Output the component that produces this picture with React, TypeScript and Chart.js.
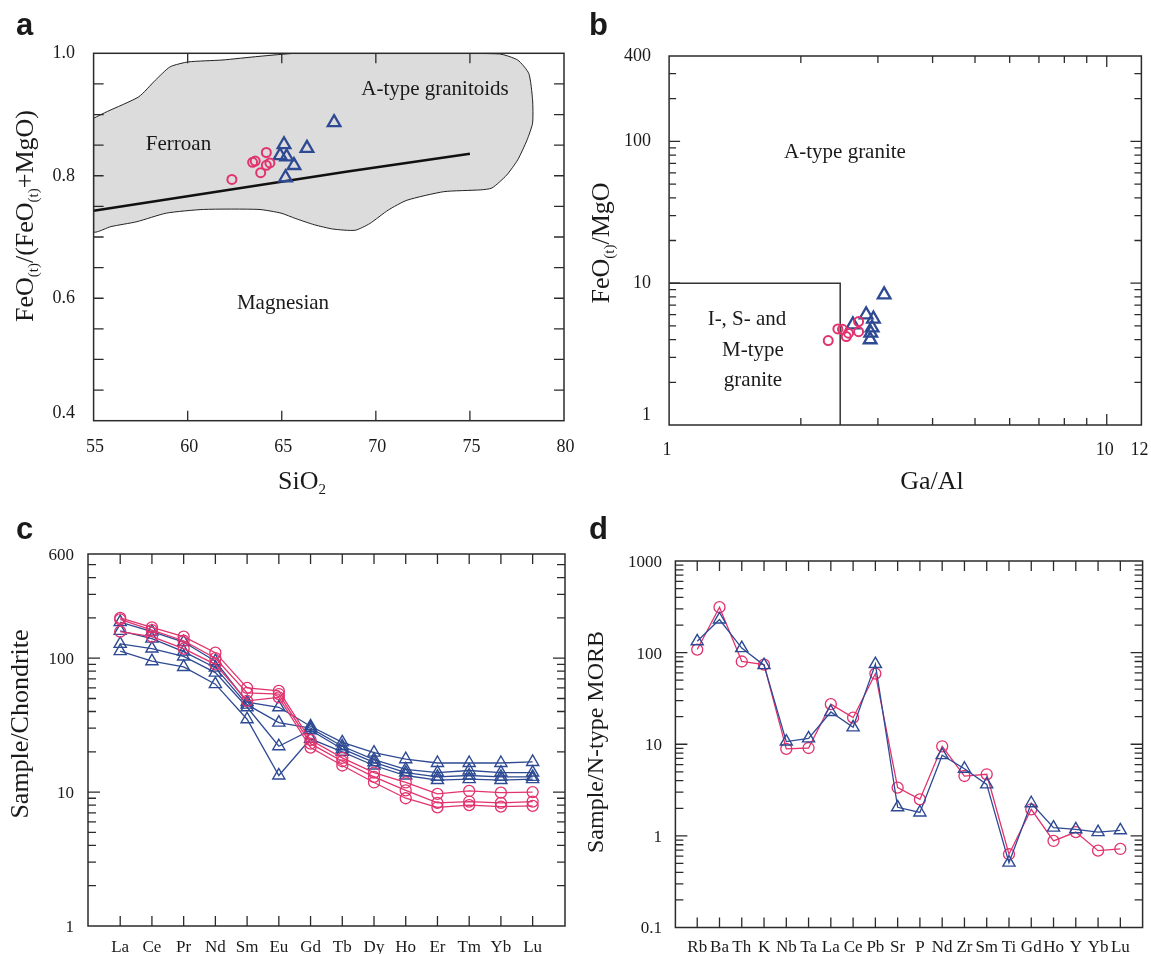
import React, { useEffect, useRef } from 'react';
import { Chart, registerables } from 'chart.js';

Chart.register(...registerables);

const W = 1151;
const H = 954;
const PINK = '#e1336e';
const BLUE = '#2e4a93';
const FRAME = '#2b2b2b';
const INK = '#1a1a1a';
const SERIF = '"Liberation Serif", "Times New Roman", serif';
const SANS = '"Liberation Sans", Arial, sans-serif';

// ---------- Panel a: FeOt/(FeOt+MgO) vs SiO2 ----------
const aPinkSiO2 = [62.35, 63.45, 63.59, 64.18, 63.88, 64.18, 64.37];
const aPinkRatio = [0.794, 0.822, 0.824, 0.838, 0.805, 0.817, 0.821];
const aBlueSiO2 = [67.78, 65.12, 66.34, 64.91, 65.26, 65.65, 65.2];
const aBlueRatio = [0.887, 0.851, 0.845, 0.833, 0.831, 0.817, 0.797];
const aFieldSiO2 = [55, 55.73, 57.4, 58.28, 59.07, 60.05, 61.82, 63.79, 65.75, 69.68, 73.61, 76.56, 77.54, 78.13, 78.33, 78.33, 78.03, 77.54, 76.95, 76.17, 75.58, 73.61, 71.65, 70.66, 69.68, 68.9, 67.72, 66.73, 65.75, 64.96, 63.79, 60.84, 58.87, 57.3, 55.92, 55, 55];
const aFieldRatio = [0.894, 0.905, 0.929, 0.956, 0.978, 0.986, 0.989, 0.995, 1.0, 1.001, 1.0, 0.999, 0.989, 0.967, 0.924, 0.886, 0.858, 0.826, 0.801, 0.78, 0.777, 0.774, 0.76, 0.744, 0.722, 0.711, 0.713, 0.72, 0.73, 0.739, 0.745, 0.745, 0.739, 0.725, 0.717, 0.709, 0.894];
const aDividerSiO2 = [55, 68.5, 75];
const aDividerRatio = [0.743, 0.807, 0.836];
const aXTickLabels = [55, 60, 65, 70, 75, 80];
const aYTickLabels = [0.4, 0.6, 0.8, 1.0];

// ---------- Panel b: FeOt/MgO vs Ga/Al ----------
const bPinkGaAl = [2.31, 2.43, 2.49, 2.54, 2.57, 2.71, 2.71];
const bPinkRatio = [3.94, 4.76, 4.73, 4.2, 4.44, 4.55, 5.36];
const bBlueGaAl = [3.1, 2.82, 2.63, 2.93, 2.91, 2.89, 2.88];
const bBlueRatio = [8.3, 6.0, 5.1, 5.6, 4.85, 4.45, 4.0];
const bBoxGaAl = [1, 2.46, 2.46];
const bBoxRatio = [10, 10, 1];
const bXTickLabels = [1, 10, 12];
const bYTickLabels = [1, 10, 100, 400];

// ---------- Panel c: chondrite-normalised REE ----------
const reeLabels = ['La', 'Ce', 'Pr', 'Nd', 'Sm', 'Eu', 'Gd', 'Tb', 'Dy', 'Ho', 'Er', 'Tm', 'Yb', 'Lu'];
const cBlue1 = [186, 158, 132, 95, 47, 43, 31, 23.5, 19.7, 17.6, 16.5, 16.5, 16.5, 16.8];
const cBlue2 = [160, 140, 112, 85, 45, 33, 30, 22, 17.5, 14.8, 14, 14.5, 14, 14];
const cBlue3 = [128, 118, 103, 78, 43, 22, 29, 21, 16.7, 14, 13, 13.3, 13, 13];
const cBlue4 = [113, 95, 86, 64, 35, 13.3, 25, 20, 15.8, 13.3, 12.3, 12.5, 12.3, 12.5];
const cPink1 = [200, 170, 145, 110, 60, 57, 24.5, 18, 14, 11.8, 9.7, 10.2, 9.9, 10];
const cPink2 = [195, 162, 135, 100, 55, 54, 23, 17, 13, 10.3, 8.3, 8.5, 8.3, 8.5];
const cPink3 = [158, 145, 118, 90, 48, 51, 21.5, 15.8, 11.8, 9.0, 7.7, 8.0, 7.8, 7.9];
const cYTickLabels = [1, 10, 100, 600];

// ---------- Panel d: N-MORB-normalised spider ----------
const spiderLabels = ['Rb', 'Ba', 'Th', 'K', 'Nb', 'Ta', 'La', 'Ce', 'Pb', 'Sr', 'P', 'Nd', 'Zr', 'Sm', 'Ti', 'Gd', 'Ho', 'Y', 'Yb', 'Lu'];
const dPink = [108, 313, 80, 74, 8.9, 9.1, 27.4, 19.5, 59, 3.36, 2.5, 9.5, 4.5, 4.7, 0.63, 1.95, 0.88, 1.1, 0.69, 0.72];
const dBlue = [133, 230, 112, 73, 10.7, 11.6, 22.5, 15.3, 75, 2.05, 1.8, 7.6, 5.4, 3.65, 0.51, 2.27, 1.23, 1.18, 1.1, 1.15];
const dYTickLabels = [0.1, 1, 10, 100, 1000];

// ---------- helpers ----------
type Area = { left: number; top: number; right: number; bottom: number };
type Part = [string, boolean];

const zip = (xs: number[], ys: number[]) => xs.map((x, i) => ({ x, y: ys[i] }));
const idx = (ys: number[]) => ys.map((y, i) => ({ x: i, y }));

function logTicks(min: number, max: number) {
  const out: { v: number; major: boolean }[] = [];
  for (let e = Math.floor(Math.log10(min)); e <= Math.ceil(Math.log10(max)); e++) {
    for (let k = 1; k < 10; k++) {
      const v = k * Math.pow(10, e);
      if (v > min * 1.0001 && v < max * 0.9999) out.push({ v, major: k === 1 });
    }
  }
  return out;
}

function frame(ctx: CanvasRenderingContext2D, a: Area) {
  ctx.save();
  ctx.strokeStyle = FRAME;
  ctx.lineWidth = 1.5;
  ctx.strokeRect(a.left, a.top, a.right - a.left, a.bottom - a.top);
  ctx.restore();
}

function xTick(ctx: CanvasRenderingContext2D, a: Area, px: number, len: number) {
  ctx.beginPath();
  ctx.moveTo(px, a.bottom);
  ctx.lineTo(px, a.bottom - len);
  ctx.moveTo(px, a.top);
  ctx.lineTo(px, a.top + len);
  ctx.stroke();
}

function yTick(ctx: CanvasRenderingContext2D, a: Area, py: number, len: number) {
  ctx.beginPath();
  ctx.moveTo(a.left, py);
  ctx.lineTo(a.left + len, py);
  ctx.moveTo(a.right, py);
  ctx.lineTo(a.right - len, py);
  ctx.stroke();
}

function text(
  ctx: CanvasRenderingContext2D,
  s: string,
  x: number,
  y: number,
  font: string,
  align: CanvasTextAlign = 'center',
  baseline: CanvasTextBaseline = 'middle'
) {
  ctx.save();
  ctx.font = font;
  ctx.fillStyle = INK;
  ctx.textAlign = align;
  ctx.textBaseline = baseline;
  ctx.fillText(s, x, y);
  ctx.restore();
}

function rich(ctx: CanvasRenderingContext2D, parts: Part[], x: number, y: number, size: number, rotate: boolean) {
  ctx.save();
  ctx.translate(x, y);
  if (rotate) ctx.rotate(-Math.PI / 2);
  const main = `${size}px ${SERIF}`;
  const sub = `${Math.round(size * 0.56)}px ${SERIF}`;
  let total = 0;
  for (const [t, s] of parts) {
    ctx.font = s ? sub : main;
    total += ctx.measureText(t).width;
  }
  let cx = -total / 2;
  ctx.fillStyle = INK;
  ctx.textAlign = 'left';
  ctx.textBaseline = 'alphabetic';
  for (const [t, s] of parts) {
    ctx.font = s ? sub : main;
    ctx.fillText(t, cx, s ? size * 0.2 : 0);
    cx += ctx.measureText(t).width;
  }
  ctx.restore();
}

function letter(ctx: CanvasRenderingContext2D, s: string, x: number, y: number) {
  text(ctx, s, x, y, `bold 31px ${SANS}`, 'left', 'alphabetic');
}

const circleSet = (data: { x: number; y: number }[], r: number, bw: number, line: boolean, order = 0) => ({
  data,
  showLine: line,
  borderColor: PINK,
  borderWidth: 1.3,
  pointStyle: 'circle',
  pointRadius: r,
  pointBorderWidth: bw,
  pointBorderColor: PINK,
  pointBackgroundColor: 'rgba(0,0,0,0)',
  order,
});

const triSet = (data: { x: number; y: number }[], r: number, bw: number, line: boolean, order = 0) => ({
  data,
  showLine: line,
  borderColor: BLUE,
  borderWidth: 1.3,
  pointStyle: 'triangle',
  pointRadius: r,
  pointBorderWidth: bw,
  pointBorderColor: BLUE,
  pointBackgroundColor: 'rgba(0,0,0,0)',
  order,
});

function baseOptions(area: Area, x: any, y: any) {
  return {
    animation: false,
    responsive: false,
    devicePixelRatio: 1,
    events: [],
    layout: { padding: { left: area.left, top: area.top, right: W - area.right, bottom: H - area.bottom } },
    plugins: { legend: { display: false }, tooltip: { enabled: false } },
    scales: { x: { ...x, display: false }, y: { ...y, display: false } },
  };
}

// ---------- chart configs ----------
const areaA: Area = { left: 93.6, top: 53.3, right: 564, bottom: 420.7 };
const areaB: Area = { left: 669.1, top: 56, right: 1142.7, bottom: 425 };
const areaC: Area = { left: 88, top: 554, right: 565, bottom: 926 };
const areaD: Area = { left: 675.4, top: 561, right: 1146.3, bottom: 927.5 };

function configA(): any {
  return {
    type: 'scatter',
    data: {
      datasets: [
        circleSet(zip(aPinkSiO2, aPinkRatio), 4.5, 2, false, 0),
        triSet(zip(aBlueSiO2, aBlueRatio), 7.3, 2.3, false, 0),
        {
          data: zip(aDividerSiO2, aDividerRatio),
          showLine: true,
          borderColor: '#111',
          borderWidth: 2.6,
          pointRadius: 0,
          order: 1,
        },
        {
          data: zip(aFieldSiO2, aFieldRatio),
          showLine: true,
          borderColor: '#222',
          borderWidth: 1,
          backgroundColor: '#dcdcdc',
          fill: 'shape',
          tension: 0.2,
          pointRadius: 0,
          order: 2,
        },
      ],
    },
    options: baseOptions(areaA, { type: 'linear', min: 55, max: 80 }, { type: 'linear', min: 0.4, max: 1.0 }),
    plugins: [
      {
        id: 'decorA',
        afterDatasetsDraw(chart: any) {
          const ctx = chart.ctx as CanvasRenderingContext2D;
          const a = chart.chartArea as Area;
          const sx = chart.scales.x;
          const sy = chart.scales.y;
          frame(ctx, a);
          ctx.save();
          ctx.strokeStyle = FRAME;
          ctx.lineWidth = 1.3;
          aXTickLabels.slice(1, -1).forEach((v) => xTick(ctx, a, sx.getPixelForValue(v), 10));
          for (let i = 1; i < 12; i++) yTick(ctx, a, sy.getPixelForValue(0.4 + 0.05 * i), 10);
          ctx.restore();
          aYTickLabels.forEach((v) =>
            text(ctx, v.toFixed(1), 75, Math.min(sy.getPixelForValue(v), a.bottom - 7), `18px ${SERIF}`, 'right')
          );
          aXTickLabels.forEach((v) => text(ctx, String(v), sx.getPixelForValue(v) + 1.5, 447, `18px ${SERIF}`));
          rich(ctx, [['FeO', false], ['(t)', true], ['/(FeO', false], ['(t)', true], ['+MgO)', false]], 33, 216, 26, true);
          rich(ctx, [['SiO', false], ['2', true]], 302, 489, 26, false);
          text(ctx, 'A-type granitoids', 435, 89, `21px ${SERIF}`);
          text(ctx, 'Ferroan', 178.5, 144, `21px ${SERIF}`);
          text(ctx, 'Magnesian', 283, 303, `21px ${SERIF}`);
          letter(ctx, 'a', 16, 35);
        },
      },
    ],
  };
}

function configB(): any {
  return {
    type: 'scatter',
    data: {
      datasets: [
        circleSet(zip(bPinkGaAl, bPinkRatio), 4.5, 2, false, 0),
        triSet(zip(bBlueGaAl, bBlueRatio), 7.3, 2.3, false, 0),
        {
          data: zip(bBoxGaAl, bBoxRatio),
          showLine: true,
          borderColor: '#333',
          borderWidth: 1.5,
          pointRadius: 0,
          order: 1,
        },
      ],
    },
    options: baseOptions(areaB, { type: 'logarithmic', min: 1, max: 12 }, { type: 'logarithmic', min: 1, max: 400 }),
    plugins: [
      {
        id: 'decorB',
        afterDatasetsDraw(chart: any) {
          const ctx = chart.ctx as CanvasRenderingContext2D;
          const a = chart.chartArea as Area;
          const sx = chart.scales.x;
          const sy = chart.scales.y;
          frame(ctx, a);
          ctx.save();
          ctx.strokeStyle = FRAME;
          ctx.lineWidth = 1.3;
          logTicks(1, 12).forEach((t) => xTick(ctx, a, sx.getPixelForValue(t.v), t.major ? 11 : 7));
          logTicks(1, 400).forEach((t) => yTick(ctx, a, sy.getPixelForValue(t.v), t.major ? 11 : 7));
          ctx.restore();
          bYTickLabels.forEach((v) =>
            text(ctx, String(v), 651, Math.min(sy.getPixelForValue(v), a.bottom - 10), `18px ${SERIF}`, 'right')
          );
          bXTickLabels.forEach((v) => text(ctx, String(v), sx.getPixelForValue(v) - 2, 450, `18px ${SERIF}`));
          rich(ctx, [['FeO', false], ['(t)', true], ['/MgO', false]], 609, 243, 26, true);
          rich(ctx, [['Ga/Al', false]], 932, 489, 26, false);
          text(ctx, 'A-type granite', 845, 152, `21px ${SERIF}`);
          text(ctx, 'I-, S- and', 747, 319, `21px ${SERIF}`);
          text(ctx, 'M-type', 753, 350, `21px ${SERIF}`);
          text(ctx, 'granite', 753, 380, `21px ${SERIF}`);
          letter(ctx, 'b', 589, 35);
        },
      },
    ],
  };
}

function spiderDecor(
  id: string,
  labels: string[],
  yLabels: number[],
  yMin: number,
  yMax: number,
  labelRight: number,
  title: string,
  titleX: number,
  titleY: number,
  titleSize: number,
  tag: string,
  tagX: number,
  tagY: number
) {
  return {
    id,
    afterDatasetsDraw(chart: any) {
      const ctx = chart.ctx as CanvasRenderingContext2D;
      const a = chart.chartArea as Area;
      const sx = chart.scales.x;
      const sy = chart.scales.y;
      frame(ctx, a);
      ctx.save();
      ctx.strokeStyle = FRAME;
      ctx.lineWidth = 1.3;
      labels.forEach((_, i) => xTick(ctx, a, sx.getPixelForValue(i), 10));
      logTicks(yMin, yMax).forEach((t) => yTick(ctx, a, sy.getPixelForValue(t.v), t.major ? 12 : 8));
      ctx.restore();
      yLabels.forEach((v) => text(ctx, String(v), labelRight, sy.getPixelForValue(v) + 1.5, `17px ${SERIF}`, 'right'));
      labels.forEach((s, i) => text(ctx, s, sx.getPixelForValue(i), 951.5, `17px ${SERIF}`, 'center', 'alphabetic'));
      rich(ctx, [[title, false]], titleX, titleY, titleSize, true);
      letter(ctx, tag, tagX, tagY);
    },
  };
}

function configC(): any {
  const blues = [cBlue1, cBlue2, cBlue3, cBlue4];
  const pinks = [cPink1, cPink2, cPink3];
  return {
    type: 'scatter',
    data: {
      datasets: [
        ...pinks.map((s) => circleSet(idx(s), 5.5, 1.3, true, 0)),
        ...blues.map((s) => triSet(idx(s), 7, 1.4, true, 1)),
      ],
    },
    options: baseOptions(areaC, { type: 'linear', min: -1.015, max: 14.02 }, { type: 'logarithmic', min: 1, max: 600 }),
    plugins: [spiderDecor('decorC', reeLabels, cYTickLabels, 1, 600, 74, 'Sample/Chondrite', 28, 724, 26, 'c', 16, 539)],
  };
}

function configD(): any {
  return {
    type: 'scatter',
    data: {
      datasets: [circleSet(idx(dPink), 5.5, 1.3, true, 1), triSet(idx(dBlue), 7, 1.4, true, 0)],
    },
    options: baseOptions(areaD, { type: 'linear', min: -0.98, max: 20 }, { type: 'logarithmic', min: 0.1, max: 1000 }),
    plugins: [spiderDecor('decorD', spiderLabels, dYTickLabels, 0.1, 1000, 662, 'Sample/N-type MORB', 603, 742, 24, 'd', 589, 539)],
  };
}

function Panel({ make }: { make: () => any }) {
  const ref = useRef<HTMLCanvasElement | null>(null);
  useEffect(() => {
    if (!ref.current) return;
    const chart = new Chart(ref.current, make());
    return () => chart.destroy();
  }, [make]);
  return (
    <canvas
      ref={ref}
      width={W}
      height={H}
      style={{ position: 'absolute', left: 0, top: 0, width: W, height: H }}
    />
  );
}

export default function App() {
  return (
    <div style={{ position: 'fixed', left: 0, top: 0, width: W, height: H, background: '#ffffff', overflow: 'hidden' }}>
      <Panel make={configA} />
      <Panel make={configB} />
      <Panel make={configC} />
      <Panel make={configD} />
    </div>
  );
}
